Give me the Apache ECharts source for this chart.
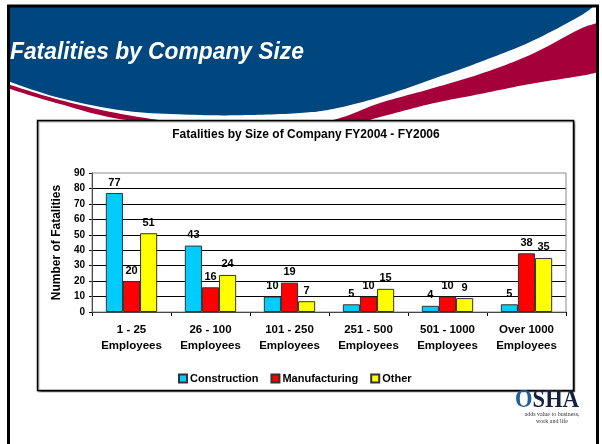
<!DOCTYPE html>
<html>
<head>
<meta charset="utf-8">
<script src="https://cdn.jsdelivr.net/npm/echarts@6/dist/echarts.min.js"></script>
<style>
    html, body { margin: 0; padding: 0; background: #fff; }
    #chart { width: 602px; height: 444px; }
</style>
</head>
<body>
<div id="chart"></div>
<script>
// chart data
const categories = [
    "1 - 25\nEmployees",
    "26 - 100\nEmployees",
    "101 - 250\nEmployees",
    "251 - 500\nEmployees",
    "501 - 1000\nEmployees",
    "Over 1000\nEmployees",
];
const construction = [77, 43, 10, 5, 4, 5];
const manufacturing = [20, 16, 19, 10, 10, 38];
const other = [51, 24, 7, 15, 9, 35];
const yMin = 0;
const yMax = 90;
const yStep = 10;

const FONT = '"Liberation Sans", Arial, sans-serif';

// Catmull-Rom sampling for the slide header swooshes
function curve(pts) {
    const out = [];
    for (let i = 0; i < pts.length - 1; i++) {
        const p0 = pts[Math.max(i - 1, 0)];
        const p1 = pts[i];
        const p2 = pts[i + 1];
        const p3 = pts[Math.min(i + 2, pts.length - 1)];
        for (let s = 0; s < 12; s++) {
            const t = s / 12, t2 = t * t, t3 = t2 * t;
            const f = (a, b, c, d) =>
                0.5 * (2 * b + (-a + c) * t + (2 * a - 5 * b + 4 * c - d) * t2 + (-a + 3 * b - 3 * c + d) * t3);
            out.push([f(p0[0], p1[0], p2[0], p3[0]), f(p0[1], p1[1], p2[1], p3[1])]);
        }
    }
    out.push(pts[pts.length - 1]);
    return out;
}

function band(edge) {
    // edge runs left -> right; close the shape over the top
    return [[-40, -40]].concat(curve(edge)).concat([[660, -40]]);
}

const redEdge = [[-40, 72], [7, 88], [60, 104], [127, 120], [250, 130], [340, 126], [380, 117],
    [430, 104], [480, 94], [530, 84], [580, 76], [600, 72], [660, 60]];
const whiteEdge = [[-40, 70], [7, 84], [60, 100], [127, 115], [200, 124], [300, 125], [340, 118],
    [380, 103], [430, 89], [480, 74], [530, 55], [580, 29], [600, 22], [660, 0]];
const blueEdge = [[-40, 66], [7, 81], [60, 98], [127, 111], [200, 115], [250, 115], [300, 113],
    [333, 109], [380, 97], [430, 80], [480, 62], [530, 42], [580, 16], [600, 2], [640, -20]];

const chart = echarts.init(document.getElementById("chart"));

const barStyle = (color) => ({
    color: color,
    borderColor: "#333",
    borderWidth: 1,
});

const labelStyle = {
    show: true,
    position: "top",
    distance: 5,
    color: "#000",
    fontFamily: FONT,
    fontWeight: "bold",
    fontSize: 11,
};

const option = {
    backgroundColor: "#fff",
    animation: false,
    title: {
        text: "Fatalities by Size of Company FY2004 - FY2006",
        left: 306,
        top: 129,
        textAlign: "center",
        padding: 0,
        textStyle: { fontFamily: FONT, fontWeight: "bold", fontSize: 12, color: "#000" },
    },
    legend: {
        data: ["Construction", "Manufacturing", "Other"],
        left: 178,
        top: 373,
        padding: 0,
        itemGap: 12,
        itemWidth: 8,
        itemHeight: 8,
        icon: "rect",
        textStyle: { fontFamily: FONT, fontWeight: "bold", fontSize: 11, color: "#000", padding: [0, 0, 0, -2] },
    },
    grid: {
        left: 92,
        right: 36,
        top: 173,
        bottom: 132,
        show: true,
        borderColor: "#8c8c8c",
        borderWidth: 1,
        backgroundColor: "transparent",
        z: 3,
    },
    xAxis: {
        type: "category",
        data: categories,
        axisLine: { lineStyle: { color: "#000", width: 1 } },
        axisTick: { show: true, length: 4, lineStyle: { color: "#000" } },
        axisLabel: {
            interval: 0,
            margin: 10,
            lineHeight: 16,
            color: "#000",
            fontFamily: FONT,
            fontWeight: "bold",
            fontSize: 11.5,
        },
    },
    yAxis: {
        type: "value",
        min: yMin,
        max: yMax,
        interval: yStep,
        name: "Number of Fatalities",
        nameLocation: "middle",
        nameGap: 29,
        nameTextStyle: { fontFamily: FONT, fontWeight: "bold", fontSize: 12, color: "#000" },
        axisLine: { show: true, lineStyle: { color: "#000", width: 1 } },
        axisTick: { show: true, length: 3, lineStyle: { color: "#000" } },
        axisLabel: { margin: 7, color: "#000", fontFamily: FONT, fontWeight: "bold", fontSize: 10 },
        splitLine: { show: true, showMaxLine: false, lineStyle: { color: "#000", width: 1 } },
    },
    series: [
        {
            name: "Construction",
            type: "bar",
            data: construction,
            barGap: "0%",
            barCategoryGap: "35%",
            itemStyle: barStyle("#00ccff"),
            label: labelStyle,
            z: 4,
        },
        {
            name: "Manufacturing",
            type: "bar",
            data: manufacturing,
            barGap: "0%",
            barCategoryGap: "35%",
            itemStyle: barStyle("#ff0000"),
            label: labelStyle,
            z: 4,
        },
        {
            name: "Other",
            type: "bar",
            data: other,
            barGap: "0%",
            barCategoryGap: "35%",
            itemStyle: barStyle("#ffff00"),
            label: labelStyle,
            z: 4,
        },
    ],
    graphic: {
        elements: [
            // slide header
            { type: "polygon", z: -10, shape: { points: band(redEdge) }, style: { fill: "#a6003a" } },
            { type: "polygon", z: -9, shape: { points: band(whiteEdge) }, style: { fill: "#ffffff" } },
            { type: "polygon", z: -8, shape: { points: band(blueEdge) }, style: { fill: "#00467f" } },
            {
                type: "text",
                z: -7,
                x: 10,
                y: 40,
                scaleX: 0.95,
                style: {
                    text: "Fatalities by Company Size",
                    fill: "#fff",
                    font: 'italic bold 24px "Liberation Sans", Arial, sans-serif',
                    textVerticalAlign: "top",
                },
            },
            // white margin outside the slide frame
            { type: "rect", z: -6, shape: { x: 0, y: 0, width: 602, height: 6 }, style: { fill: "#fff" } },
            { type: "rect", z: -6, shape: { x: 0, y: 0, width: 8, height: 444 }, style: { fill: "#fff" } },
            { type: "rect", z: -6, shape: { x: 598, y: 0, width: 4, height: 444 }, style: { fill: "#fff" } },
            {
                type: "rect",
                z: -5,
                shape: { x: 8.5, y: 6, width: 589, height: 460 },
                style: { fill: "none", stroke: "#000", lineWidth: 3 },
            },
            // chart frame
            {
                type: "rect",
                z: -4,
                shape: { x: 37.5, y: 120.5, width: 536, height: 270 },
                style: {
                    fill: "#fff",
                    stroke: "#000",
                    lineWidth: 1.5,
                    shadowColor: "rgba(0,0,0,0.45)",
                    shadowOffsetX: 1,
                    shadowOffsetY: 1,
                    shadowBlur: 1,
                },
            },
            // logo
            {
                type: "text",
                z: -3,
                x: 547,
                y: 388,
                scaleX: 0.9,
                style: {
                    text: "{o|O}{r|SHA}",
                    textAlign: "center",
                    textVerticalAlign: "top",
                    rich: {
                        o: { font: 'bold 25px "Liberation Serif", serif', fill: "#1f5f9a" },
                        r: { font: 'bold 25px "Liberation Serif", serif', fill: "#14213f" },
                    },
                },
            },
            {
                type: "text",
                z: -3,
                x: 552,
                y: 411,
                style: {
                    text: "adds value to business,\nwork and life",
                    textAlign: "center",
                    textVerticalAlign: "top",
                    lineHeight: 7,
                    fill: "#333",
                    font: '6px "Liberation Serif", serif',
                },
            },
        ],
    },
};

chart.setOption(option);
</script>
</body>
</html>
